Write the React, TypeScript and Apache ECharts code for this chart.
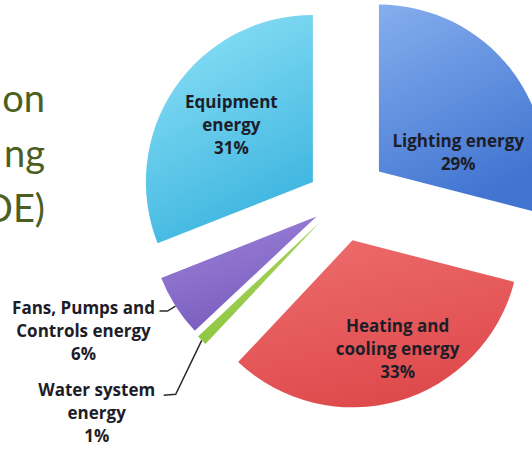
import React, { useEffect, useRef } from "react";
import * as echarts from "echarts";

// Slice names (line breaks as printed) and their shares in percent
const categories = [
  "Lighting energy",
  "Heating and\ncooling energy",
  "Water system\nenergy",
  "Fans, Pumps and\nControls energy",
  "Equipment\nenergy",
];
const shares = [29, 33, 1, 6, 31];

// Trailing fragments of the slide heading to the left of the pie
const headingFragments = ["on", "ng", "DE)"];

// Presentation settings
const pieCenter = [341, 201];
const pieRadius = 167;
const explodeBy = [48, 41, 30, 29, 34];
const sliceGradients = [
  ["#86aeee", "#4175d1"],
  ["#ee6e6e", "#df4b4d"],
  ["#b0da68", "#8cc43f"],
  ["#9d85da", "#7a5dbf"],
  ["#93e4f8", "#3fb6e0"],
];
const outsideSlices = [2, 3];
// Nudges for the labels printed inside their slice
const insideNudge: Record<number, [number, number]> = {
  0: [11, 33],
  1: [21, 25],
  4: [-10, -9],
};
// Leader line shape and label placement, relative to the slice's rim point
const outsideGuides: Record<number, { line: number[][]; text: [number, number] }> = {
  2: { line: [[-26, 54], [-38, 55]], text: [-105, 38] },
  3: { line: [[-8, 5], [-16, 5]], text: [-92, -10] },
};

const labelFont = {
  fontFamily: "'Open Sans', Lato, sans-serif",
  fontWeight: "bold" as const,
  fontSize: 17,
  lineHeight: 23,
  color: "#1d1d28",
};

function explodedCenters(): number[][] {
  const total = shares.reduce((a, b) => a + b, 0);
  let acc = 0;
  return shares.map((v, i) => {
    const mid = ((acc + v / 2) / total) * Math.PI * 2;
    acc += v;
    return [
      pieCenter[0] + explodeBy[i] * Math.sin(mid),
      pieCenter[1] - explodeBy[i] * Math.cos(mid),
    ];
  });
}

function buildOption() {
  const centers = explodedCenters();
  const series = shares.map((_, k) => {
    const outside = outsideSlices.includes(k);
    return {
      type: "pie",
      radius: pieRadius,
      center: centers[k],
      startAngle: 90,
      clockwise: true,
      avoidLabelOverlap: false,
      silent: true,
      emphasis: { disabled: true },
      itemStyle: { borderWidth: 0 },
      labelLayout: (params: any) => {
        if (params.dataIndex !== k) return {};
        if (outside) {
          const g = outsideGuides[k];
          const p0 = params.labelLinePoints ? params.labelLinePoints[0] : [0, 0];
          return {
            x: p0[0] + g.text[0],
            y: p0[1] + g.text[1],
            align: "center",
            verticalAlign: "top",
            labelLinePoints: [
              p0,
              [p0[0] + g.line[0][0], p0[1] + g.line[0][1]],
              [p0[0] + g.line[1][0], p0[1] + g.line[1][1]],
            ],
          };
        }
        const n = insideNudge[k];
        return { dx: n[0], dy: n[1] };
      },
      data: shares.map((v, i) => {
        if (i !== k) {
          return {
            value: v,
            name: categories[i],
            itemStyle: { color: "rgba(0,0,0,0)", borderWidth: 0 },
            label: { show: false },
            labelLine: { show: false },
          };
        }
        return {
          value: v,
          name: categories[i],
          itemStyle: {
            color: {
              type: "linear",
              x: 0,
              y: 0,
              x2: 0.4,
              y2: 1,
              colorStops: [
                { offset: 0, color: sliceGradients[i][0] },
                { offset: 1, color: sliceGradients[i][1] },
              ],
            },
          },
          label: {
            show: true,
            position: outside ? "outside" : "inside",
            formatter: "{b}\n{c}%",
            align: "center",
            ...labelFont,
          },
          labelLine: {
            show: outside,
            lineStyle: { color: "#2b2b2b", width: 1.5 },
          },
        };
      }),
    };
  });

  const graphic = headingFragments.map((t, i) => ({
    type: "text",
    x: 45,
    y: 97 + i * 55,
    silent: true,
    style: {
      text: t,
      fill: "#4b5f23",
      font: "38px Lato, 'Open Sans', sans-serif",
      textAlign: "right",
      align: "right",
      textVerticalAlign: "middle",
      verticalAlign: "middle",
    },
  }));

  return {
    animation: false,
    backgroundColor: "#ffffff",
    graphic,
    series,
  };
}

export default function App() {
  const ref = useRef<HTMLDivElement>(null);
  useEffect(() => {
    if (!ref.current) return;
    const chart = echarts.init(ref.current, undefined, { renderer: "svg" });
    chart.setOption(buildOption() as any);
    return () => chart.dispose();
  }, []);
  return (
    <div
      ref={ref}
      style={{ position: "fixed", left: 0, top: 0, width: 532, height: 450, background: "#fff" }}
    />
  );
}
